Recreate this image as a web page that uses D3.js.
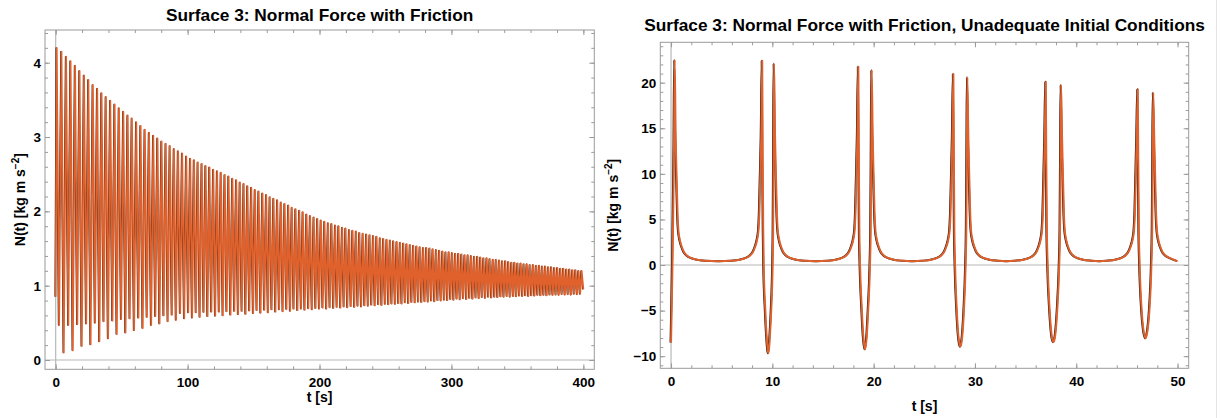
<!DOCTYPE html>
<html><head><meta charset="utf-8">
<script src="https://cdn.jsdelivr.net/npm/d3@7"></script>
<style>
body{margin:0;background:#fff}
svg text{font-family:"Liberation Sans",Arial,Helvetica,sans-serif;font-weight:bold;fill:#000}
</style></head>
<body><svg id="c" width="1222" height="418"></svg>
<script>
// ---------------- DATA ----------------
// Left panel: times of successive spikes (s), their heights and the trough following each spike
const leftStart = [0, 0.85];
const leftPeakT = [0.8,4.4,7.9,11.3,14.7,18.1,21.5,24.8,28.2,31.5,34.8,38.1,41.4,44.7,48.0,51.3,54.6,57.8,61.1,64.4,67.6,70.8,74.0,77.2,80.3,83.5,86.6,89.7,92.8,95.9,
99.0,102.0,104.9,107.8,110.8,113.7,116.6,119.5,122.4,125.3,128.2,131.1,134.0,136.9,139.7,142.6,145.4,148.3,151.1,153.9,156.8,159.6,162.4,165.2,168.0,170.8,173.6,176.4,179.1,181.9,184.7,187.4,190.2,192.9,195.7,198.4,201.1,
203.8,206.5,209.2,211.9,214.5,217.2,219.8,222.5,225.1,227.7,230.3,232.9,235.5,238.1,240.7,243.3,245.9,248.4,251.0,253.5,256.0,258.6,261.1,263.6,266.1,268.6,271.1,273.6,276.1,278.6,281.0,283.5,285.9,288.4,290.8,293.3,295.7,298.1,300.5,
302.9,305.3,307.7,310.1,312.5,314.9,317.3,319.7,322.0,324.4,326.8,329.1,331.5,333.8,336.2,338.5,340.9,343.2,345.6,347.9,350.2,352.6,354.9,357.2,359.5,361.9,364.2,366.5,368.8,371.1,373.4,375.7,378.0,380.3,382.6,384.9,387.2,389.5,391.8,394.1,396.4,398.7];
const leftPeakN = [4.20,4.15,4.08,4.02,3.96,3.89,3.83,3.77,3.70,3.65,3.59,3.54,3.49,3.44,3.39,3.34,3.29,3.25,3.20,3.15,3.10,3.06,3.02,2.98,2.94,2.91,2.88,2.84,2.81,2.78,
2.74,2.71,2.69,2.66,2.64,2.61,2.59,2.56,2.54,2.52,2.49,2.47,2.44,2.42,2.39,2.37,2.34,2.32,2.29,2.27,2.24,2.22,2.19,2.17,2.15,2.12,2.10,2.08,2.05,2.03,2.01,1.99,1.96,1.94,1.92,1.90,1.88,
1.86,1.84,1.83,1.81,1.80,1.78,1.77,1.75,1.74,1.73,1.71,1.70,1.69,1.68,1.67,1.66,1.64,1.63,1.62,1.61,1.60,1.59,1.58,1.57,1.56,1.55,1.54,1.53,1.52,1.51,1.51,1.50,1.49,1.48,1.47,1.46,1.45,1.45,1.44,
1.43,1.43,1.42,1.41,1.41,1.40,1.39,1.39,1.38,1.37,1.37,1.36,1.35,1.35,1.34,1.33,1.33,1.32,1.31,1.31,1.30,1.30,1.29,1.29,1.28,1.28,1.27,1.27,1.26,1.26,1.25,1.25,1.24,1.24,1.23,1.23,1.22,1.22,1.21,1.21,1.20,1.20];
const leftTroughN = [0.47,0.10,0.47,0.13,0.48,0.19,0.49,0.21,0.50,0.25,0.52,0.29,0.53,0.35,0.55,0.37,0.56,0.40,0.57,0.43,0.58,0.47,0.59,0.49,0.60,0.52,0.61,0.54,0.63,0.56,
0.64,0.57,0.64,0.58,0.645,0.59,0.65,0.595,0.65,0.60,0.655,0.61,0.66,0.615,0.66,0.62,0.665,0.63,0.67,0.635,0.675,0.64,0.68,0.65,0.68,0.655,0.685,0.66,0.69,0.67,0.69,0.675,0.695,0.68,0.70,0.69,0.705,
0.69,0.71,0.70,0.715,0.705,0.72,0.71,0.725,0.715,0.73,0.72,0.735,0.73,0.745,0.735,0.75,0.74,0.755,0.75,0.76,0.755,0.765,0.76,0.775,0.765,0.78,0.775,0.785,0.78,0.79,0.785,0.80,0.79,0.805,0.80,0.81,0.805,0.82,0.81,
0.825,0.815,0.83,0.82,0.835,0.825,0.84,0.83,0.845,0.835,0.85,0.84,0.85,0.845,0.855,0.85,0.86,0.85,0.86,0.855,0.865,0.86,0.87,0.86,0.87,0.865,0.875,0.87,0.875,0.87,0.88,0.875,0.88,0.875,0.885,0.88,0.885,0.88,0.89,0.885,0.89,0.95];
const leftEndT = 400;
const leftBlackLead = 0.45;

// Right panel: sampled (t, N) points of the curve
const rightSeries = [
[0,-8.5],[0.08,-4],[0.15,0.5],[0.22,6],[0.29,13],[0.36,22.5],[0.46,14],[0.56,9.3],[0.64,5.8],[0.72,3.9],[0.86,2.8],[1.06,2.0],[1.26,1.45],[1.56,1.05],[1.96,0.78],[2.56,0.58],[3.36,0.47],[4.68,0.42],
[6.0,0.47],[6.8,0.58],[7.4,0.78],[7.8,1.05],[8.1,1.45],[8.3,2.0],[8.5,2.8],[8.64,3.9],[8.72,5.8],[8.8,9.3],[8.9,14],[9.0,22.4],
[9.05,12],[9.1,4],[9.15,0],[9.31,-5],[9.45,-8],[9.53,-9.2],[9.6,-9.69],[9.67,-9.2],[9.75,-8],[9.89,-5],[10.03,0],[10.08,4],[10.12,12],[10.17,22.1],
[10.27,14],[10.37,9.3],[10.45,5.8],[10.53,3.9],[10.67,2.8],[10.87,2.0],[11.07,1.45],[11.37,1.05],[11.77,0.78],[12.37,0.58],[13.17,0.47],[14.33,0.42],
[15.49,0.47],[16.29,0.58],[16.89,0.78],[17.29,1.05],[17.59,1.45],[17.79,2.0],[17.99,2.8],[18.13,3.9],[18.21,5.8],[18.29,9.3],[18.39,14],[18.49,21.76],
[18.54,12],[18.59,4],[18.66,0],[18.84,-5],[18.99,-8],[19.07,-8.8],[19.15,-9.25],[19.23,-8.8],[19.31,-8],[19.46,-5],[19.64,0],[19.71,4],[19.76,12],[19.81,21.4],
[19.91,14],[20.01,9.3],[20.09,5.8],[20.17,3.9],[20.31,2.8],[20.51,2.0],[20.71,1.45],[21.01,1.05],[21.41,0.78],[22.01,0.58],[22.81,0.47],[23.84,0.42],
[24.87,0.47],[25.67,0.58],[26.27,0.78],[26.67,1.05],[26.97,1.45],[27.17,2.0],[27.37,2.8],[27.51,3.9],[27.59,5.8],[27.67,9.3],[27.77,14],[27.87,20.95],
[27.92,12],[27.97,4],[28.04,0],[28.21,-5],[28.37,-7.8],[28.46,-8.6],[28.56,-8.96],[28.66,-8.6],[28.75,-7.8],[28.91,-5],[29.08,0],[29.15,4],[29.2,12],[29.25,20.6],
[29.35,14],[29.45,9.3],[29.53,5.8],[29.61,3.9],[29.75,2.8],[29.95,2.0],[30.15,1.45],[30.45,1.05],[30.85,0.78],[31.45,0.58],[32.25,0.47],[33.12,0.42],
[33.99,0.47],[34.79,0.58],[35.39,0.78],[35.79,1.05],[36.09,1.45],[36.29,2.0],[36.49,2.8],[36.63,3.9],[36.71,5.8],[36.79,9.3],[36.89,14],[36.99,20.1],
[37.04,12],[37.1,4],[37.18,0],[37.38,-5],[37.55,-7.5],[37.65,-8.2],[37.75,-8.48],[37.85,-8.2],[37.95,-7.5],[38.12,-5],[38.32,0],[38.4,4],[38.45,12],[38.5,19.75],
[38.6,14],[38.7,9.3],[38.78,5.8],[38.86,3.9],[39.0,2.8],[39.2,2.0],[39.4,1.45],[39.7,1.05],[40.1,0.78],[40.7,0.58],[41.5,0.47],[42.29,0.42],
[43.07,0.47],[43.87,0.58],[44.47,0.78],[44.87,1.05],[45.17,1.45],[45.37,2.0],[45.57,2.8],[45.71,3.9],[45.79,5.8],[45.87,9.3],[45.97,14],[46.07,19.27],
[46.12,12],[46.18,4],[46.26,0],[46.46,-5],[46.63,-7.1],[46.74,-7.75],[46.84,-8.04],[46.94,-7.75],[47.05,-7.1],[47.22,-5],[47.42,0],[47.5,4],[47.55,12],[47.6,18.9],
[47.7,14],[47.8,9.3],[47.88,5.8],[47.96,3.9],[48.1,2.8],[48.3,2.0],[48.5,1.45],[48.8,1.05],[49.2,0.78],[50.0,0.42]];
const rightBlackLead = 0.05;

// Axes ticks
const leftXMajor = [0,100,200,300,400];
const leftXMinor = d3.range(0, 401, 20);
const leftYMajor = [0,1,2,3,4];
const leftYMinor = d3.range(0.2, 4.41, 0.2);
const rightXMajor = [0,10,20,30,40,50];
const rightXMinor = d3.range(0, 51, 2);
const rightYMajor = [-10,-5,0,5,10,15,20];
const rightYMinor = d3.range(-11, 25, 1);

const titles = ["Surface 3: Normal Force with Friction",
                "Surface 3: Normal Force with Friction, Unadequate Initial Conditions"];
const xLabel = "t [s]";
const yLabelMain = "N(t) [kg m s", yLabelSup = "\u22122", yLabelEnd = "]";

// ---------------- DRAW ----------------
const svg = d3.select("#c");
const ORANGE = "#e0612b", BLACK = "#1a1a1a", FRAME = "#9a9a9a", ZERO = "#b8b8b8";

// build left point list
const leftPts = [leftStart];
leftPeakT.forEach((t, i) => {
  leftPts.push([t, leftPeakN[i]]);
  const tn = i < leftPeakT.length - 1 ? (t + leftPeakT[i + 1]) / 2 : leftEndT;
  leftPts.push([tn, leftTroughN[i]]);
});

function panel(cfg) {
  const f = cfg.frame;
  const x = d3.scaleLinear().domain(cfg.xd).range([f.l, f.r]);
  const y = d3.scaleLinear().domain(cfg.yd).range([f.b, f.t]);
  const g = svg.append("g");
  const cid = "clip" + cfg.id;
  svg.append("defs").append("clipPath").attr("id", cid).append("rect")
    .attr("x", f.l).attr("y", f.t).attr("width", f.r - f.l).attr("height", f.b - f.t);

  // zero lines
  g.append("line").attr("x1", f.l).attr("x2", f.r).attr("y1", y(0)).attr("y2", y(0))
    .attr("stroke", ZERO).attr("stroke-width", 1.2);
  g.append("line").attr("x1", x(0)).attr("x2", x(0)).attr("y1", f.t).attr("y2", f.b)
    .attr("stroke", ZERO).attr("stroke-width", 1.2);

  const cg = g.append("g").attr("clip-path", `url(#${cid})`);
  const lineB = d3.line().x(d => x(d[0] - cfg.lead)).y(d => y(d[1])).curve(cfg.curve);
  const lineO = d3.line().x(d => x(d[0])).y(d => y(d[1])).curve(cfg.curve);
  cg.append("path").datum(cfg.pts).attr("d", lineB).attr("fill", "none")
    .attr("stroke", BLACK).attr("stroke-width", cfg.bw).attr("stroke-linejoin", "round");
  cg.append("path").datum(cfg.pts).attr("d", lineO).attr("fill", "none")
    .attr("stroke", ORANGE).attr("stroke-width", cfg.ow).attr("stroke-linejoin", "round");

  // frame
  g.append("rect").attr("x", f.l).attr("y", f.t).attr("width", f.r - f.l).attr("height", f.b - f.t)
    .attr("fill", "none").attr("stroke", FRAME).attr("stroke-width", 1);

  const style = sel => {
    sel.select(".domain").remove();
    sel.selectAll(".tick line").attr("stroke", FRAME);
    sel.selectAll("text").attr("font-family", null).attr("font-size", null)
      .style("font-size", "13.5px").style("font-weight", "bold");
    sel.attr("font-family", null).attr("font-size", null);
  };
  const fmt = d3.format("d");
  // bottom
  g.append("g").attr("transform", `translate(0,${f.b})`)
    .call(d3.axisBottom(x).tickValues(cfg.xMinor).tickSize(-3).tickFormat("")).call(style);
  g.append("g").attr("transform", `translate(0,${f.b})`)
    .call(d3.axisBottom(x).tickValues(cfg.xMajor).tickSize(-5).tickPadding(8).tickFormat(fmt)).call(style);
  // top
  g.append("g").attr("transform", `translate(0,${f.t})`)
    .call(d3.axisTop(x).tickValues(cfg.xMinor).tickSize(-3).tickFormat("")).call(style);
  g.append("g").attr("transform", `translate(0,${f.t})`)
    .call(d3.axisTop(x).tickValues(cfg.xMajor).tickSize(-5).tickFormat("")).call(style);
  // left
  g.append("g").attr("transform", `translate(${f.l},0)`)
    .call(d3.axisLeft(y).tickValues(cfg.yMinor).tickSize(-3).tickFormat("")).call(style);
  g.append("g").attr("transform", `translate(${f.l},0)`)
    .call(d3.axisLeft(y).tickValues(cfg.yMajor).tickSize(-5).tickPadding(cfg.yPad).tickFormat(fmt)).call(style);
  // right
  g.append("g").attr("transform", `translate(${f.r},0)`)
    .call(d3.axisRight(y).tickValues(cfg.yMinor).tickSize(-3).tickFormat("")).call(style);
  g.append("g").attr("transform", `translate(${f.r},0)`)
    .call(d3.axisRight(y).tickValues(cfg.yMajor).tickSize(-5).tickFormat("")).call(style);

  // title
  svg.append("text").attr("x", (f.l + f.r) / 2).attr("y", cfg.titleY).attr("text-anchor", "middle")
    .style("font-size", "17.3px").text(cfg.title);
  // x label
  svg.append("text").attr("x", (f.l + f.r) / 2).attr("y", cfg.xLabY).attr("text-anchor", "middle")
    .style("font-size", "14px").text(xLabel);
  // y label
  const yl = svg.append("text").attr("transform", `translate(${cfg.yLabX},${(f.t + f.b) / 2}) rotate(-90)`)
    .attr("text-anchor", "middle").style("font-size", "14px");
  yl.append("tspan").text(yLabelMain);
  yl.append("tspan").attr("dy", -6).style("font-size", "10px").text(yLabelSup);
  yl.append("tspan").attr("dy", 6).text(yLabelEnd);
}

panel({
  id: "L", frame: {l: 45, r: 594.3, t: 30, b: 369.3},
  xd: [-8.1, 408.3], yd: [-0.125, 4.44],
  xMajor: leftXMajor, xMinor: leftXMinor, yMajor: leftYMajor, yMinor: leftYMinor,
  pts: leftPts, lead: leftBlackLead, curve: d3.curveLinear, bw: 1.3, ow: 1.8,
  title: titles[0], titleY: 20.5, xLabY: 402, yLabX: 25, yPad: 4
});
panel({
  id: "R", frame: {l: 660.3, r: 1188.7, t: 42.3, b: 368.3},
  xd: [-1.06, 51.1], yd: [-11.33, 24.43],
  xMajor: rightXMajor, xMinor: rightXMinor, yMajor: rightYMajor, yMinor: rightYMinor,
  pts: rightSeries, lead: rightBlackLead, curve: d3.curveMonotoneX, bw: 2, ow: 2,
  title: titles[1], titleY: 30.5, xLabY: 411, yLabX: 618, yPad: 4
});

// faint border line at right edge of original figure
svg.append("line").attr("x1", 1216.5).attr("x2", 1216.5).attr("y1", 0).attr("y2", 418)
  .attr("stroke", "#e4e4e4").attr("stroke-width", 1);
</script>
</body></html>
